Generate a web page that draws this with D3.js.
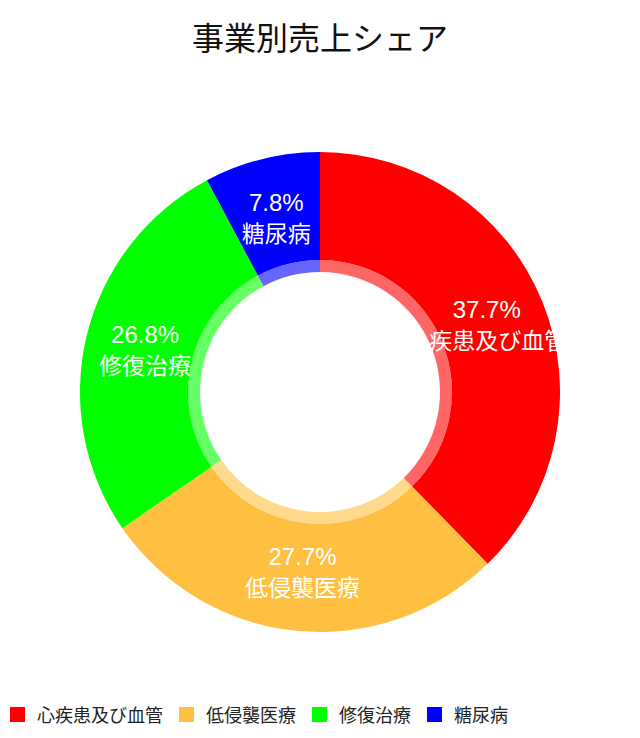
<!DOCTYPE html>
<html lang="ja">
<head>
    <meta charset="UTF-8">
    <title>事業別売上シェア</title>
    <script src="https://d3js.org/d3.v7.min.js"></script>
    <style>
        body {
            margin: 0;
            background: #fff;
            font-family: "Liberation Sans", "Noto Sans CJK JP", sans-serif;
        }
    </style>
</head>
<body>
    <div id="chart"></div>

    <script>
        const categories = ["心疾患及び血管", "低侵襲医療", "修復治療", "糖尿病"];
        const shares = [37.7, 27.7, 26.8, 7.8];
        const colors = ["#ff0000", "#ffbf40", "#00ff00", "#0000ff"];

        const width = 640;
        const height = 738;
        const cx = 320, cy = 392;
        const innerR = 120, ringR = 132, outerR = 240;

        const data = categories.map((name, i) => ({ name, value: shares[i], color: colors[i] }));

        const svg = d3.select("#chart").append("svg")
            .attr("width", width)
            .attr("height", height);

        svg.append("text")
            .attr("x", width / 2)
            .attr("y", 50)
            .attr("text-anchor", "middle")
            .attr("font-size", 32)
            .attr("fill", "#111")
            .text("事業別売上シェア");

        const pie = d3.pie().sort(null).value(d => d.value);
        const arcs = pie(data);

        const arcMain = d3.arc().innerRadius(ringR).outerRadius(outerR);
        const arcRing = d3.arc().innerRadius(innerR).outerRadius(ringR);
        const arcLabel = d3.arc().innerRadius(innerR).outerRadius(outerR);

        const g = svg.append("g")
            .attr("transform", "translate(" + cx + "," + cy + ")");

        g.selectAll(".slice")
            .data(arcs)
            .enter().append("path")
            .attr("class", "slice")
            .attr("d", arcMain)
            .attr("fill", d => d.data.color);

        // lighter inner band
        g.selectAll(".ring")
            .data(arcs)
            .enter().append("path")
            .attr("class", "ring")
            .attr("d", arcRing)
            .attr("fill", d => d.data.color)
            .attr("fill-opacity", 0.6);

        const labels = g.selectAll(".label")
            .data(arcs)
            .enter().append("g")
            .attr("class", "label")
            .attr("transform", d => "translate(" + arcLabel.centroid(d) + ")");

        labels.append("text")
            .attr("text-anchor", "middle")
            .attr("y", -6)
            .attr("font-size", 24)
            .attr("fill", "#fff")
            .text(d => d.data.value.toFixed(1) + "%");

        labels.append("text")
            .attr("text-anchor", "middle")
            .attr("y", 25)
            .attr("font-size", 23)
            .attr("fill", "#fff")
            .text(d => d.data.name);

        // legend
        const legend = svg.append("g").attr("transform", "translate(10,707)");
        let lx = 0;
        data.forEach(d => {
            const item = legend.append("g").attr("transform", "translate(" + lx + ",0)");
            item.append("rect")
                .attr("width", 15)
                .attr("height", 15)
                .attr("fill", d.color);
            const t = item.append("text")
                .attr("x", 27)
                .attr("y", 15)
                .attr("font-size", 18)
                .attr("fill", "#222")
                .text(d.name);
            lx += 27 + t.node().getComputedTextLength() + 16;
        });
    </script>
</body>
</html>
